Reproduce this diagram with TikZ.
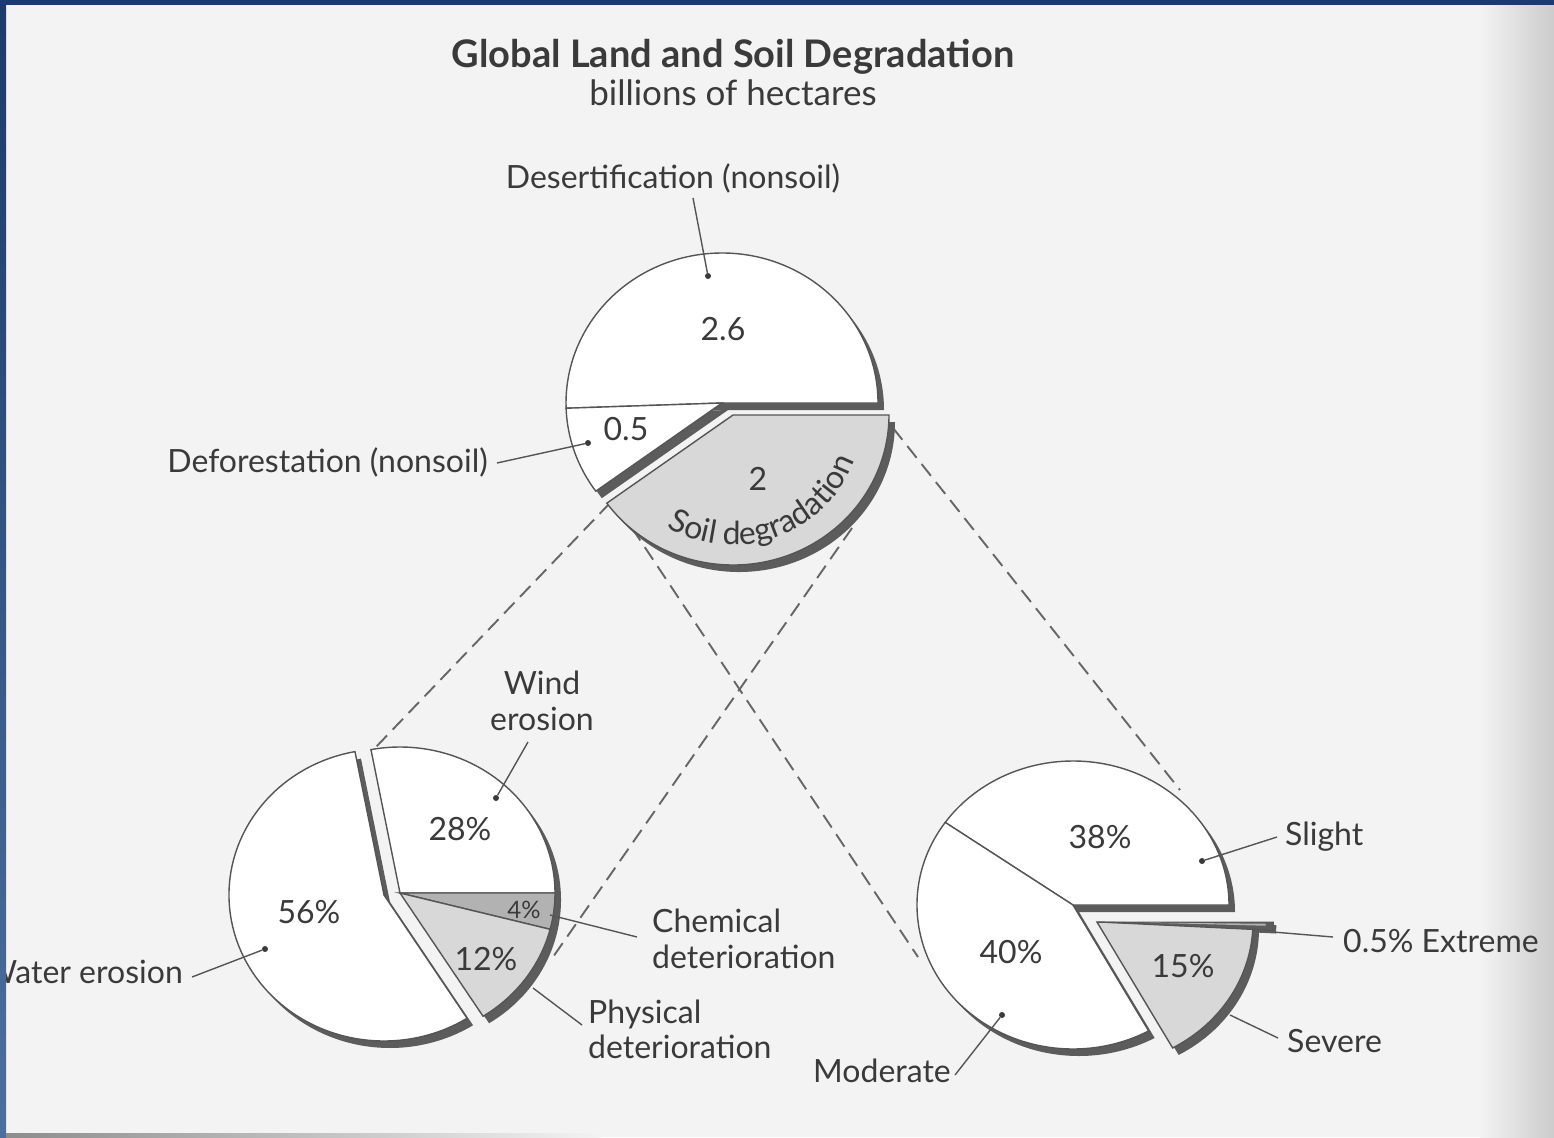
\documentclass[tikz,border=0pt]{standalone}
\usepackage{fontspec}
\setmainfont{Lato}
\usetikzlibrary{decorations.text}
\definecolor{ink}{HTML}{3A3A3A}
\definecolor{shad}{HTML}{5C5C5C}
\definecolor{edge}{HTML}{555555}
\definecolor{paper}{HTML}{F3F3F3}
\definecolor{softgray}{HTML}{D8D8D8}
\definecolor{midgray}{HTML}{B2B2B2}
\definecolor{frame}{HTML}{1C3A6C}
\definecolor{framelight}{HTML}{4D6F9E}
\newcommand\lblfont{\fontsize{32}{36}\selectfont}
\begin{document}
\begin{tikzpicture}[x=1pt,y=-1pt,
  titlestyle/.style={text=ink, font=\bfseries\fontsize{38}{44}\selectfont, inner sep=0pt},
  substyle/.style={text=ink, font=\fontsize{35}{40}\selectfont, inner sep=0pt},
  lbl/.style={text=ink, font=\lblfont, inner sep=0pt},
  smalllbl/.style={text=ink, font=\fontsize{24}{28}\selectfont, inner sep=0pt},
  leader/.style={draw=edge, line width=1.4pt},
  dotc/.style={circle, fill=ink, inner sep=0pt, minimum size=6pt},
  dashline/.style={draw=edge!90, line width=1.9pt, dash pattern=on 15pt off 8pt},
  shadowpart/.style={fill=shad},
  whitepart/.style={fill=white, draw=edge, line width=1.4pt},
  graypart/.style={fill=softgray, draw=edge, line width=1.4pt},
  darkpart/.style={fill=midgray, draw=edge, line width=1.4pt},
]
\useasboundingbox (0,0) rectangle (1554,1137);
% paper
\fill[paper] (0,0) rectangle (1554,1137);
\shade[left color=paper, right color=black!20] (1480,0) rectangle (1554,1137);

% dashed connectors (behind pies)
\coordinate (dA1) at (610,503); \coordinate (dA2) at (375,748);
\coordinate (dB1) at (852,528); \coordinate (dB2) at (553,957);
\coordinate (dC1) at (632,528); \coordinate (dC2) at (918,957);
\coordinate (dD1) at (893,428); \coordinate (dD2) at (1180,790);
\draw[dashline] (dA1) -- (dA2);
\draw[dashline] (dB1) -- (dB2);
\draw[dashline] (dC1) -- (dC2);
\draw[dashline] (dD1) -- (dD2);

% ---------- top pie ----------
\begin{scope}[shift={(722,403)}, x=156pt, y=150pt]
  \fill[shadowpart, shift={(6pt,-7pt)}] (0,0) -- (0:1) arc[start angle=0, end angle=182, radius=1] -- cycle;
  \fill[shadowpart, shift={(6pt,-7pt)}] (0,0) -- (182:1) arc[start angle=182, end angle=216, radius=1] -- cycle;
  \fill[shadowpart, shift={(17pt,-19pt)}] (0,0) -- (216:1) arc[start angle=216, end angle=360, radius=1] -- cycle;
  \filldraw[whitepart] (0,0) -- (0:1) arc[start angle=0, end angle=182, radius=1] -- cycle;
  \filldraw[whitepart] (0,0) -- (182:1) arc[start angle=182, end angle=216, radius=1] -- cycle;
  \filldraw[graypart, shift={(11pt,-12pt)}] (0,0) -- (216:1) arc[start angle=216, end angle=360, radius=1] -- cycle;
\end{scope}
\coordinate (soilc) at (733,415);
\path[decorate, decoration={text along path, text align=center,
  text={|\lblfont\color{ink}|Soil degradation}}]
  ([shift={(127:130)}]soilc) arc[start angle=127, end angle=14, radius=130];

% ---------- lower left pie ----------
\begin{scope}[shift={(384,895)}, x=155pt, y=146pt]
  \fill[shadowpart, shift={(6pt,-7pt)}] (0,0) -- (100.8:1) arc[start angle=100.8, end angle=302.4, radius=1] -- cycle;
\end{scope}
\begin{scope}[shift={(400,893)}, x=155pt, y=146pt]
  \fill[shadowpart, shift={(6pt,-7pt)}] (0,0) -- (-57.6:1) arc[start angle=-57.6, end angle=100.8, radius=1] -- cycle;
\end{scope}
\begin{scope}[shift={(384,895)}, x=155pt, y=146pt]
  \filldraw[whitepart] (0,0) -- (100.8:1) arc[start angle=100.8, end angle=302.4, radius=1] -- cycle;
\end{scope}
\begin{scope}[shift={(400,893)}, x=155pt, y=146pt]
  \filldraw[whitepart] (0,0) -- (0:1) arc[start angle=0, end angle=100.8, radius=1] -- cycle;
  \filldraw[darkpart] (0,0) -- (-14.4:1) arc[start angle=-14.4, end angle=0, radius=1] -- cycle;
  \filldraw[graypart] (0,0) -- (-57.6:1) arc[start angle=-57.6, end angle=-14.4, radius=1] -- cycle;
\end{scope}

% ---------- lower right pie ----------
\begin{scope}[shift={(1073,905)}, x=156pt, y=144pt]
  \fill[shadowpart, shift={(6pt,-7pt)}] (0,0) -- (0:1) arc[start angle=0, end angle=299, radius=1] -- cycle;
  \fill[shadowpart, shift={(30pt,-24pt)}] (0,0) -- (-61:1) arc[start angle=-61, end angle=0, radius=1] -- cycle;
  \fill[shadowpart, shift={(27pt,-20pt)}] (0,0) -- (-3:1.13) arc[start angle=-3, end angle=0, radius=1.13] -- cycle;
  \filldraw[whitepart] (0,0) -- (0:1) arc[start angle=0, end angle=145, radius=1] -- cycle;
  \filldraw[whitepart] (0,0) -- (145:1) arc[start angle=145, end angle=299, radius=1] -- cycle;
  \filldraw[graypart, shift={(24pt,-17pt)}] (0,0) -- (-61:1) arc[start angle=-61, end angle=-1.5, radius=1] -- cycle;
  \filldraw[fill=shad, draw=edge, line width=1pt, shift={(24pt,-17pt)}] (0,0) -- (-3:1.13) arc[start angle=-3, end angle=0, radius=1.13] -- cycle;
  \fill[midgray, shift={(24pt,-17pt)}] (0.3,-0.004) -- (1.08,-0.012) -- (1.08,-0.026) -- cycle;
\end{scope}

% ---------- titles ----------
\node[titlestyle, anchor=base] (title) at (733,68) {Global Land and Soil Degradation};
\node[substyle, anchor=base] (subtitle) at (733,106) {billions of hectares};

% ---------- value labels ----------
\node[lbl, anchor=base] (v26) at (723,340) {2.6};
\node[lbl, anchor=base] (v05) at (626,440) {0.5};
\node[lbl, anchor=base] (v2) at (758,490) {2};
\node[lbl, anchor=base] (v28) at (460,840) {28\%};
\node[smalllbl, anchor=base] (v4) at (524,918) {4\%};
\node[lbl, anchor=base] (v12) at (486,970) {12\%};
\node[lbl, anchor=base] (v56) at (309,923) {56\%};
\node[lbl, anchor=base] (v38) at (1100,848) {38\%};
\node[lbl, anchor=base] (v40) at (1011,963) {40\%};
\node[lbl, anchor=base] (v15) at (1183,977) {15\%};

% ---------- category labels ----------
\node[lbl, anchor=base] (ldes) at (673,188) {Desertification (nonsoil)};
\node[lbl, anchor=base east] (ldef) at (488,472) {Deforestation (nonsoil)};
\node[lbl, anchor=base] (lwind1) at (542,694) {Wind};
\node[lbl, anchor=base] (lwind2) at (542,730) {erosion};
\node[lbl, anchor=base east] (lwater) at (183,983) {Water erosion};
\node[lbl, anchor=base west] (lchem1) at (652,932) {Chemical};
\node[lbl, anchor=base west] (lchem2) at (652,968) {deterioration};
\node[lbl, anchor=base west] (lphys1) at (588,1023) {Physical};
\node[lbl, anchor=base west] (lphys2) at (588,1058) {deterioration};
\node[lbl, anchor=base] (lmod) at (882,1082) {Moderate};
\node[lbl, anchor=base west] (lslight) at (1285,845) {Slight};
\node[lbl, anchor=base west] (lext) at (1343,952) {0.5\% Extreme};
\node[lbl, anchor=base west] (lsev) at (1287,1052) {Severe};

% ---------- leaders ----------
\node[dotc] (ddes) at (708,276) {};
\coordinate (cdes) at (693,198);
\draw[leader] (cdes) -- (ddes);
\node[dotc] (ddef) at (588,443) {};
\coordinate (cdef) at (497,463);
\draw[leader] (cdef) -- (ddef);
\node[dotc] (dwind) at (496,798) {};
\coordinate (cwind) at (528,742);
\draw[leader] (cwind) -- (dwind);
\node[dotc] (dwater) at (265,949) {};
\coordinate (cwater) at (192,977);
\draw[leader] (cwater) -- (dwater);
\coordinate (pchem) at (550,915); \coordinate (cchem) at (637,937);
\draw[leader] (pchem) -- (cchem);
\coordinate (pphys) at (533,988); \coordinate (cphys) at (582,1025);
\draw[leader] (pphys) -- (cphys);
\node[dotc] (dslight) at (1202,861) {};
\coordinate (cslight) at (1277,837);
\draw[leader] (dslight) -- (cslight);
\coordinate (pext) at (1273,932); \coordinate (cext) at (1333,937);
\draw[leader] (pext) -- (cext);
\coordinate (psev) at (1230,1015); \coordinate (csev) at (1278,1038);
\draw[leader] (psev) -- (csev);
\node[dotc] (dmod) at (1002,1015) {};
\coordinate (cmod) at (955,1075);
\draw[leader] (dmod) -- (cmod);

% ---------- frame ----------
\fill[frame] (0,0) rectangle (1554,5);
\shade[top color=frame, bottom color=framelight] (0,0) rectangle (6,1137);
\shade[left color=black!45, right color=paper] (6,1133) rectangle (600,1137);
\end{tikzpicture}
\end{document}
